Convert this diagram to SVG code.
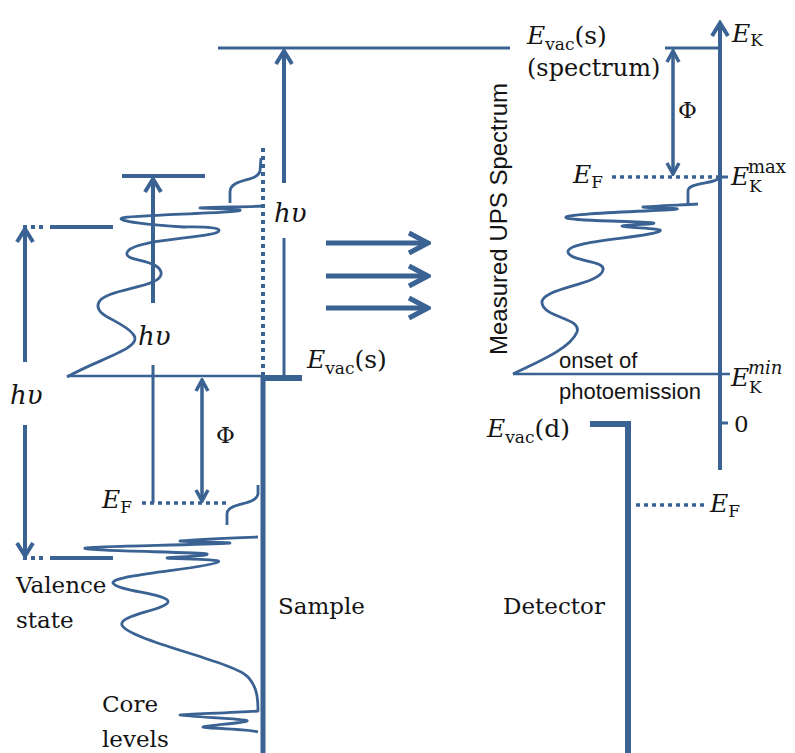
<svg xmlns="http://www.w3.org/2000/svg" width="795" height="753" viewBox="0 0 795 753">
<defs>
<style>
.ln{stroke:#3A6293;fill:none;stroke-linecap:butt}
.dot{stroke:#3A6293;fill:none;stroke-dasharray:4 4}
.sp{stroke:#3A6293;fill:none;stroke-width:2.8;stroke-linejoin:round}
.t{font-family:"DejaVu Serif","Liberation Serif",serif;fill:#141414}
.m{font-family:"DejaVu Serif","Liberation Serif",serif;font-style:italic;fill:#141414}
.s{font-family:"Liberation Sans",Arial,sans-serif;fill:#141414}
</style>
<marker id="ab" markerUnits="userSpaceOnUse" viewBox="0 0 20 20" refX="17" refY="10" markerWidth="20" markerHeight="20" orient="auto-start-reverse">
<path d="M4,2 L17,10 L4,18" fill="none" stroke="#3A6293" stroke-width="4"/>
</marker>
<marker id="as" markerUnits="userSpaceOnUse" viewBox="0 0 16 16" refX="14" refY="8" markerWidth="16" markerHeight="16" orient="auto-start-reverse">
<path d="M3,2 L14,8 L3,14" fill="none" stroke="#3A6293" stroke-width="3.5"/>
</marker>
<marker id="am" markerUnits="userSpaceOnUse" viewBox="0 0 26 26" refX="23" refY="13" markerWidth="26" markerHeight="26" orient="auto">
<path d="M4,3 L23,13 L4,23" fill="none" stroke="#3A6293" stroke-width="5"/>
</marker>
</defs>
<rect width="795" height="753" fill="#ffffff"/>

<g id="connectors">
<!-- top vacuum line -->
<line class="ln" x1="218" y1="48" x2="510" y2="48" stroke-width="3"/>
<line class="ln" x1="284" y1="183" x2="284" y2="51" stroke-width="4" marker-end="url(#ab)"/>
<line class="ln" x1="284" y1="238" x2="284" y2="375" stroke-width="3"/>
<!-- dotted shifted sample line -->
<line class="dot" x1="263" y1="148" x2="263" y2="376" stroke-width="4"/>
<!-- shifted valence arrow -->
<line class="ln" x1="122" y1="176" x2="205" y2="176" stroke-width="4"/>
<line class="ln" x1="153" y1="303" x2="153" y2="179" stroke-width="4" marker-end="url(#ab)"/>
<line class="ln" x1="153" y1="365" x2="153" y2="503" stroke-width="3"/>
<!-- left baseline -->
<line class="ln" x1="67" y1="376" x2="263" y2="376" stroke-width="2.5"/>
<!-- sample -->
<line class="ln" x1="263" y1="376" x2="263" y2="753" stroke-width="5"/>
<line class="ln" x1="261" y1="378" x2="302" y2="378" stroke-width="6"/>
<!-- left EF and phi -->
<line class="dot" x1="142" y1="503" x2="226" y2="503" stroke-width="3.5"/>
<line class="ln" x1="202" y1="380" x2="202" y2="501" stroke-width="3.5" marker-start="url(#as)" marker-end="url(#as)"/>
<!-- big left hv arrow -->
<line class="ln" x1="25" y1="362" x2="25" y2="229" stroke-width="4" marker-end="url(#ab)"/>
<line class="ln" x1="25" y1="425" x2="25" y2="556" stroke-width="4" marker-end="url(#ab)"/>
<line class="ln" x1="23" y1="227" x2="44" y2="227" stroke-width="4" stroke-dasharray="4 4"/>
<line class="ln" x1="50" y1="227" x2="113" y2="227" stroke-width="4"/>
<line class="ln" x1="23" y1="558" x2="44" y2="558" stroke-width="4" stroke-dasharray="4 4"/>
<line class="ln" x1="50" y1="558" x2="113" y2="558" stroke-width="4"/>
<!-- middle arrows -->
<line class="ln" x1="326" y1="243" x2="428" y2="243" stroke-width="5" marker-end="url(#am)"/>
<line class="ln" x1="326" y1="276" x2="428" y2="276" stroke-width="5" marker-end="url(#am)"/>
<line class="ln" x1="326" y1="308" x2="428" y2="308" stroke-width="5" marker-end="url(#am)"/>
<!-- right axis -->
<line class="ln" x1="720" y1="470" x2="720" y2="23" stroke-width="4" marker-end="url(#ab)"/>
<line class="ln" x1="665" y1="48" x2="720" y2="48" stroke-width="3"/>
<line class="ln" x1="673" y1="51" x2="673" y2="174" stroke-width="3.5" marker-start="url(#as)" marker-end="url(#as)"/>
<line class="dot" x1="612" y1="177" x2="718" y2="177" stroke-width="3.5"/>
<line class="ln" x1="720" y1="177" x2="728" y2="177" stroke-width="3"/>
<line class="ln" x1="513" y1="374" x2="730" y2="374" stroke-width="2.5"/>
<line class="ln" x1="720" y1="423" x2="728" y2="423" stroke-width="3"/>
<!-- detector -->
<line class="ln" x1="590" y1="424" x2="631" y2="424" stroke-width="6"/>
<line class="ln" x1="628" y1="421" x2="628" y2="753" stroke-width="6"/>
<line class="dot" x1="636" y1="505" x2="706" y2="505" stroke-width="3.5"/>
</g>

<g id="spectrum-shifted">
<path class="sp" d="M67,377 C100,358 145,348 133,334 C122,320 92,316 99,302 C106,288 165,288 161,272 C157,258 120,262 128,251 C138,238 222,238 219,230 C216,226 192,227 184,227 C150,225 115,221 122,218 C130,215 245,213 240,210 C236,208 205,209 200,208 C215,207 250,207 263,206"/>
<path class="sp" d="M230,203 L230,192 C230,178 258,182 260,171 L261,158"/>
</g>

<g id="spectrum-sample">
<path class="sp" d="M258,537 C230,538 190,540 180,541 C195,542 225,542 230,543 C200,545 90,546 85,548 C80,551 200,552 207,554 C210,556 175,557 167,558 C175,559 225,559 218,562 C210,568 110,575 113,583 C116,591 170,594 168,602 C166,610 118,615 122,625 C128,640 235,662 248,677 C256,686 258,695 258,711 C230,713 185,714 180,715 C190,717 250,719 247,721 C244,723 210,725 203,727 C215,729 250,729 258,732"/>
<path class="sp" d="M227,525 L227,514 C227,502 256,506 258,494 L258,485"/>
</g>

<g id="spectrum-measured">
<path class="sp" d="M698,204 C680,205 650,206 643,207 C650,208 680,208 677,209 C660,211 570,213 566,217 C562,221 640,221 653,223 C660,224 625,225 622,226 C625,228 665,228 660,231 C650,238 566,240 568,252 C570,262 606,260 603,270 C600,285 540,288 542,303 C544,318 582,318 577,332 C570,350 530,365 513,374"/>
<path class="sp" d="M688,204 L688,191 C688,182 716,184 719,178"/>
</g>

<g id="labels">
<text class="m" x="527" y="44" font-size="25">E<tspan class="t" font-style="normal" font-size="17" dy="6">vac</tspan><tspan class="t" font-style="normal" font-size="25" dy="-6">(s)</tspan></text>
<text class="t" x="527" y="76" font-size="24">(spectrum)</text>
<text class="m" x="732" y="42" font-size="25">E<tspan class="t" font-style="normal" font-size="17" dy="4">K</tspan></text>
<text class="t" x="678" y="118" font-size="23">Φ</text>
<text class="m" x="573" y="183" font-size="25">E<tspan class="t" font-style="normal" font-size="17" dy="5">F</tspan></text>
<text class="m" x="731" y="185" font-size="25">E</text>
<text class="t" x="748" y="173" font-size="18">max</text>
<text class="t" x="749" y="192" font-size="17">K</text>
<text class="m" x="731" y="386" font-size="25">E</text>
<text class="m" x="748" y="374" font-size="18">min</text>
<text class="t" x="749" y="393" font-size="17">K</text>
<text class="t" x="734" y="432" font-size="23">0</text>
<text class="s" font-size="24" transform="translate(507,355) rotate(-90)">Measured UPS Spectrum</text>
<text class="s" x="559" y="368" font-size="22">onset of</text>
<text class="s" x="559" y="399" font-size="22">photoemission</text>
<text class="m" x="487" y="437" font-size="25">E<tspan class="t" font-style="normal" font-size="17" dy="6">vac</tspan><tspan class="t" font-style="normal" font-size="25" dy="-6">(d)</tspan></text>
<text class="m" x="710" y="512" font-size="25">E<tspan class="t" font-style="normal" font-size="17" dy="5">F</tspan></text>
<text class="t" x="503" y="614" font-size="23">Detector</text>
<text class="t" x="278" y="614" font-size="23">Sample</text>
<text class="m" x="307" y="368" font-size="25">E<tspan class="t" font-style="normal" font-size="17" dy="6">vac</tspan><tspan class="t" font-style="normal" font-size="25" dy="-6">(s)</tspan></text>
<text class="m" x="274" y="222" font-size="26">hυ</text>
<text class="m" x="138" y="345" font-size="26">hυ</text>
<text class="m" x="10" y="404" font-size="26">hυ</text>
<text class="t" x="216" y="443" font-size="23">Φ</text>
<text class="m" x="102" y="508" font-size="25">E<tspan class="t" font-style="normal" font-size="17" dy="5">F</tspan></text>
<text class="t" x="16" y="593" font-size="23">Valence</text>
<text class="t" x="16" y="628" font-size="23">state</text>
<text class="t" x="102" y="712" font-size="23">Core</text>
<text class="t" x="102" y="747" font-size="23">levels</text>
</g>
</svg>
